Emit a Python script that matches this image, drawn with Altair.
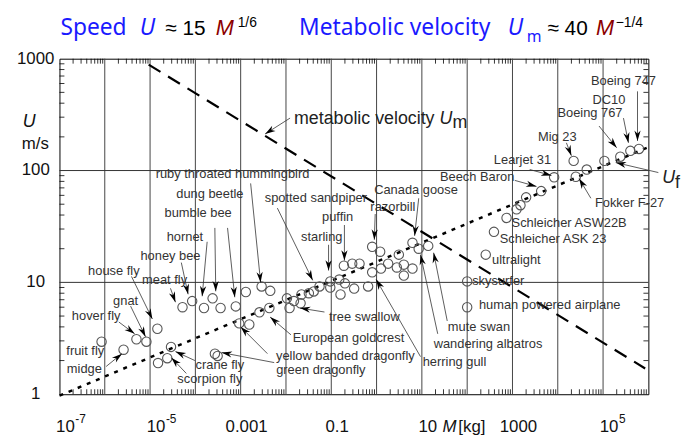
import math
import altair as alt
import pandas as pd

W, H = 595, 339
XDEC = W / 13.0   # px per decade of M
YDEC = H / 3.0    # px per decade of U
FONT = "Liberation Sans"

# ---------------- measured data points (M in kg, U in m/s) ----------------
pt_M = [8.5e-7, 2.6e-6, 5.0e-6, 8.3e-6, 1.45e-5, 1.5e-5, 2.4e-5, 2.9e-5, 5.2e-5, 8.5e-5,
        1.55e-4, 2.4e-4, 3.6e-4, 7.8e-4, 1.3e-3, 2.9e-3, 4.5e-3, 2.7e-4, 3.1e-4, 9.3e-4,
        1.55e-3, 2.6e-3, 4.3e-3,
        0.0105, 0.012, 0.015, 0.021, 0.022, 0.032, 0.041, 0.055, 0.095, 0.095,
        0.15, 0.16, 0.20, 0.32, 0.65, 0.19, 0.29, 0.42, 0.8, 0.8,
        1.2, 1.8, 3.1, 2.8, 1.25, 4.0, 4.0, 6.2, 6.2, 8.5, 13.8,
        100, 100, 257, 390, 740, 1230, 1500, 2000, 4300, 8300,
        22400, 25000, 43600, 107000, 240000, 400000, 620000]
pt_U = [2.95, 2.5, 3.1, 2.95, 3.85, 1.9, 2.1, 2.65, 6.0, 6.8,
        5.9, 7.2, 5.9, 6.1, 8.2, 9.2, 8.4, 2.3, 2.2, 4.3,
        4.2, 5.4, 5.9,
        7.2, 5.9, 6.8, 6.5, 7.8, 8.0, 8.3, 9.2, 10.2, 9.0,
        10.6, 7.8, 9.8, 8.8, 9.2, 14.1, 14.7, 14.7, 12.3, 20.8,
        18.8, 14.7, 17.7, 13.6, 13.3, 14.4, 11.5, 13.3, 22.6, 20.0, 21.2,
        10.2, 6.0, 17.7, 28.3, 37.7, 45.0, 49.0, 57.6, 65.5, 87.0,
        122, 88, 102, 122, 133, 150, 156]

# fitted lines (end points)
um_M = [9.3e-6, 8.5e5]
um_U = [885, 1.70]
uf_M = [1e-7, 1e6]
uf_U = [0.97, 162]

# ---------------- labels (positions in log10 units) ----------------
labc_text = ["ruby throated hummingbird", "dung beetle", "bumble bee", "hornet", "honey bee",
             "house fly", "meat fly", "gnat", "hover fly", "fruit fly", "midge", "crane fly",
             "scorpion fly", "green dragonfly", "yellow banded dragonfly", "European goldcrest",
             "tree swallow", "spotted sandpiper", "puffin", "starling", "Canada goose",
             "razorbill", "herring gull", "wandering albatros", "mute swan", "Beech Baron",
             "Learjet 31", "Mig 23", "Boeing 767", "DC10", "Boeing 747"]
labc_logM = [-3.18, -3.68, -3.94, -4.23, -4.55, -5.80, -4.68, -5.54, -6.19, -6.43, -6.45, -3.46,
             -3.68, -1.23, -0.69, -0.62, -0.27, -1.34, -0.86, -1.21, 0.87, 0.36, 1.72, 2.46,
             2.26, 2.22, 3.22, 3.99, 4.71, 5.13, 5.45]
labc_logU = [1.973, 1.788, 1.619, 1.407, 1.239, 1.097, 1.018, 0.832, 0.699, 0.389, 0.221, 0.262,
             0.137, 0.212, 0.345, 0.504, 0.690, 1.752, 1.584, 1.407, 1.823, 1.673, 0.292, 0.451,
             0.602, 1.938, 2.097, 2.301, 2.513, 2.633, 2.796]

labl_text = ["human powered airplane", "skysurfer", "ultralight", "Schleicher ASK 23",
             "Schleicher ASW22B", "Fokker F-27"]
labl_logM = [2.26, 2.11, 2.55, 2.72, 2.98, 4.82]
labl_logU = [0.796, 1.009, 1.204, 1.389, 1.531, 1.708]

# arrows: tail -> tip (log10 units)
arr_tail_logM = [-1.91, -2.78, -3.29, -3.57, -3.74, -4.31, -4.55, -5.41, -5.43, -5.69, -5.97,
                 -4.01, -4.20, -2.26, -2.41, -1.89, -1.15, 0.97, 1.35, 1.56, 0.93, -0.03,
                 -2.19, -0.71, -1.06, 3.05, 3.38, 4.19, 4.73, 4.91, 5.45, 5.76, 6.22]
arr_tail_logU = [2.469, 1.885, 1.487, 1.487, 1.363, 1.177, 0.947, 1.053, 0.788, 0.646, 0.248,
                 0.301, 0.186, 0.283, 0.363, 0.531, 0.735, 0.336, 0.540, 0.655, 1.752, 1.611,
                 1.664, 1.513, 1.336, 1.912, 2.009, 2.248, 1.752, 2.398, 2.469, 2.708, 1.982]
arr_tip_logM = [-2.46, -2.56, -3.13, -3.55, -3.85, -4.16, -4.44, -4.95, -5.10, -5.34, -5.62,
                -4.44, -4.53, -3.42, -3.00, -2.35, -1.69, -0.01, 0.97, 1.26, 0.84, -0.05,
                -1.41, -0.71, -1.06, 3.53, 3.86, 4.30, 4.47, 5.30, 5.56, 5.76, 5.28]
arr_tip_logU = [2.327, 1.000, 0.867, 0.920, 0.876, 0.894, 0.823, 0.673, 0.513, 0.540, 0.363,
                0.381, 0.327, 0.372, 0.602, 0.690, 0.770, 1.027, 1.248, 1.265, 1.416, 1.381,
                1.018, 1.195, 1.106, 1.858, 1.956, 2.133, 1.929, 2.204, 2.248, 2.265, 2.071]

# axis labels and grid
xlab_M = [1e-7, 1e-5, 1e-3, 1e-1, 10, 1000, 1e5]
xlab_base = ["10", "10", "0.001", "0.1", "10", "1000", "10"]
xlab_sup = ["-7", "-5", "", "", "", "", "5"]
ylab_U = [1, 10, 100, 1000]
ylab_text = ["1", "10", "100", "1000"]
x_grid = [1e-6, 1e-5, 1e-4, 1e-3, 1e-2, 1e-1, 1, 10, 100, 1e3, 1e4, 1e5]
y_grid = [10, 100]
minor_k = [2, 3, 4, 5, 6, 7, 8, 9]

# ---------------- frames ----------------
xs = alt.Scale(type="log", domain=[1e-7, 1e6], nice=False)
ys = alt.Scale(type="log", domain=[1, 1000], nice=False)

pts = pd.DataFrame({"M": pt_M, "U": pt_U})
um = pd.DataFrame({"M": um_M, "U": um_U})
uf = pd.DataFrame({"M": uf_M, "U": uf_U})
labc = pd.DataFrame({"t": labc_text, "M": [10 ** v for v in labc_logM],
                     "U": [10 ** v for v in labc_logU]})
labl = pd.DataFrame({"t": labl_text, "M": [10 ** v for v in labl_logM],
                     "U": [10 ** v for v in labl_logU]})
angs = []
for a, b, c, d in zip(arr_tail_logM, arr_tail_logU, arr_tip_logM, arr_tip_logU):
    dx = (c - a) * XDEC
    dy = -(d - b) * YDEC
    angs.append(math.degrees(math.atan2(dy, dx)) % 360)
arr = pd.DataFrame({"M1": [10 ** v for v in arr_tail_logM], "U1": [10 ** v for v in arr_tail_logU],
                    "M2": [10 ** v for v in arr_tip_logM], "U2": [10 ** v for v in arr_tip_logU],
                    "ang": angs})
xl = pd.DataFrame({"M": xlab_M, "b": xlab_base, "s": xlab_sup})
yl = pd.DataFrame({"U": ylab_U, "t": ylab_text})
gx = pd.DataFrame({"M": x_grid})
gy = pd.DataFrame({"U": y_grid})
mx = pd.DataFrame({"M": [k * 10.0 ** d for d in range(-7, 6) for k in minor_k]})
my = pd.DataFrame({"U": [k * 10.0 ** d for d in range(0, 3) for k in minor_k]})
one = pd.DataFrame({"a": [0]})


def X(f):
    return alt.X(f"{f}:Q", scale=xs, axis=None)


def Y(f):
    return alt.Y(f"{f}:Q", scale=ys, axis=None)


grid_x = alt.Chart(gx).mark_rule(color="#444", strokeWidth=1).encode(
    x=X("M"), y=alt.value(0), y2=alt.value(H))
grid_y = alt.Chart(gy).mark_rule(color="#333", strokeWidth=1).encode(
    y=Y("U"), x=alt.value(0), x2=alt.value(W))

tick_style = dict(color="black", strokeWidth=0.8)
ticks = [
    alt.Chart(mx).mark_rule(**tick_style).encode(x=X("M"), y=alt.value(0), y2=alt.value(5)),
    alt.Chart(mx).mark_rule(**tick_style).encode(x=X("M"), y=alt.value(H), y2=alt.value(H - 5)),
    alt.Chart(my).mark_rule(**tick_style).encode(y=Y("U"), x=alt.value(0), x2=alt.value(5)),
    alt.Chart(my).mark_rule(**tick_style).encode(y=Y("U"), x=alt.value(W), x2=alt.value(W - 5)),
]

um_line = alt.Chart(um).mark_line(color="black", strokeWidth=2.2, strokeDash=[14, 9]).encode(
    x=X("M"), y=Y("U"))
uf_line = alt.Chart(uf).mark_line(color="black", strokeWidth=2.5, strokeDash=[4, 6]).encode(
    x=X("M"), y=Y("U"))

circles = alt.Chart(pts).mark_point(shape="circle", size=90, filled=False, color="#555",
                                    strokeWidth=1.1, opacity=1).encode(x=X("M"), y=Y("U"))

arrow_lines = alt.Chart(arr).mark_rule(color="#333", strokeWidth=0.8).encode(
    x=X("M1"), y=Y("U1"), x2="M2:Q", y2="U2:Q")
arrow_heads = alt.Chart(arr).mark_point(shape="M0,0 L-2,-0.6 L-1.4,0 L-2,0.6 Z", size=110,
                                        filled=True, color="black", opacity=1).encode(
    x=X("M2"), y=Y("U2"), angle=alt.Angle("ang:Q", scale=None))

lab_center = alt.Chart(labc).mark_text(font=FONT, fontSize=13, color="#333", align="center",
                                       baseline="middle").encode(x=X("M"), y=Y("U"), text="t:N")
lab_left = alt.Chart(labl).mark_text(font=FONT, fontSize=13, color="#333", align="left",
                                     baseline="middle").encode(x=X("M"), y=Y("U"), text="t:N")

xbase = alt.Chart(xl).mark_text(font=FONT, fontSize=17, color="#111", align="center",
                                baseline="alphabetic", dx=6).encode(
    x=X("M"), y=alt.value(H + 38), text="b:N")
xsup = alt.Chart(xl).mark_text(font=FONT, fontSize=12, color="#111", align="left",
                               baseline="alphabetic", dx=16).encode(
    x=X("M"), y=alt.value(H + 29), text="s:N")
ylabels = alt.Chart(yl).mark_text(font=FONT, fontSize=17, color="#111", align="center",
                                  baseline="middle").encode(
    y=Y("U"), x=alt.value(-24), text="t:N")


def piece(text, x, y, size, color="black", font=FONT, style="normal"):
    return alt.Chart(one).mark_text(text=text, font=font, fontSize=size, color=color,
                                    fontStyle=style, align="left", baseline="alphabetic").encode(
        x=alt.value(x), y=alt.value(y))


BLUE = "#1a1aff"
RED = "#8b0000"
texts = [
    # title
    piece("Speed", 1, -24, 23, BLUE, "Noto Sans"),
    piece("U", 81, -24, 23, BLUE, "Noto Sans", "italic"),
    piece("\u2248 15", 107, -24, 21),
    piece("M", 158, -24, 22, RED, FONT, "italic"),
    piece("1/6", 180, -32, 14),
    piece("Metabolic velocity", 242, -24, 23, BLUE, "Noto Sans"),
    piece("U", 453, -24, 23, BLUE, "Noto Sans", "italic"),
    piece("m", 472, -17, 16, BLUE, "Noto Sans"),
    piece("\u2248 40", 493, -24, 21),
    piece("M", 542, -24, 22, RED, FONT, "italic"),
    piece("\u22121/4", 562, -32, 14),
    # y axis title
    piece("U", -37, 69, 18, "#111", FONT, "italic"),
    piece("m/s", -38, 91, 17, "#111"),
    # x axis title
    piece("M", 387, H + 38, 17, "#111", FONT, "italic"),
    piece("[kg]", 403, H + 38, 17, "#111"),
    # line labels
    piece("metabolic velocity", 237, 66, 18, "#222"),
    piece("U", 384, 66, 18, "#222", FONT, "italic"),
    piece("m", 397, 70, 18, "#222"),
    piece("U", 609, 126, 18, "#222", FONT, "italic"),
    piece("f", 622, 131, 18, "#222"),
]

chart = alt.layer(grid_x, grid_y, *ticks, um_line, uf_line, circles, arrow_lines, arrow_heads,
                  lab_center, lab_left, xbase, xsup, ylabels, *texts).properties(
    width=W, height=H,
    padding={"left": 52, "top": 49, "right": 37, "bottom": 41},
    autosize=alt.AutoSizeParams(type="none"),
).configure_view(stroke="black", strokeWidth=1)

chart.save("out.html", embed_options={"renderer": "svg", "actions": False})
